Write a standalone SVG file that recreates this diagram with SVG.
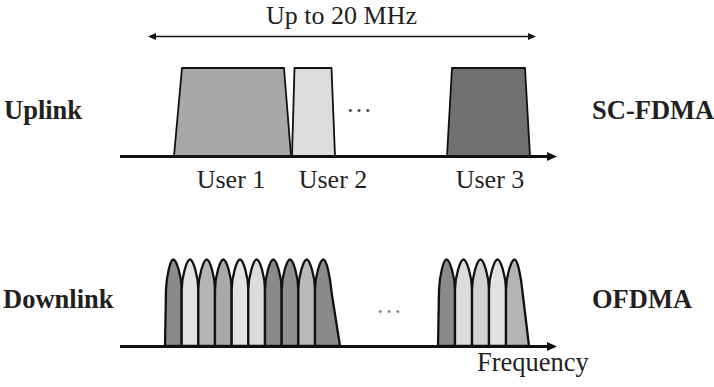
<svg xmlns="http://www.w3.org/2000/svg" width="714" height="387" viewBox="0 0 714 387">
<style>
  .t{font-family:"Liberation Serif","Times New Roman",serif;fill:#231f20}
  .b{font-weight:bold;font-size:26.5px}
  .r{font-size:26px}
  .sh{stroke:#111;stroke-width:1.8;stroke-linejoin:round}
  .lb{stroke:#111;stroke-width:2.3;stroke-linejoin:round}
  .ax{stroke:#111;stroke-width:2.8;fill:none}
  .c1{fill:#8a8a8a}.c2{fill:#e2e2e2}.c3{fill:#b4b4b4}.c4{fill:#a9a9a9}.c5{fill:#dcdcdc}.c6{fill:#bababa}.c7{fill:#d2d2d2}.c8{fill:#909090}
</style>
<defs>
  <marker id="big" markerUnits="userSpaceOnUse" markerWidth="11" markerHeight="9" refX="3" refY="4.5" orient="auto">
    <path d="M0,0 L10,4.5 L0,9 Z" fill="#111"/>
  </marker>
  <marker id="small" markerUnits="userSpaceOnUse" markerWidth="9" markerHeight="7" refX="1" refY="3.5" orient="auto-start-reverse">
    <path d="M0,0 L8,3.5 L0,7 Z" fill="#111"/>
  </marker>
</defs>

<g id="connectors">
  <line x1="155" y1="36.5" x2="529" y2="36.5" stroke="#111" stroke-width="1.5" marker-start="url(#small)" marker-end="url(#small)"/>
  <line class="ax" x1="120" y1="156.5" x2="550" y2="156.5" marker-end="url(#big)"/>
  <line class="ax" x1="120" y1="346.5" x2="550" y2="346.5" marker-end="url(#big)"/>
</g>

<text class="t r" x="341.5" y="24" text-anchor="middle">Up to 20 MHz</text>

<g id="uplink-label"><text class="t b" x="4" y="119">Uplink</text></g>
<g id="scfdma-label"><text class="t b" x="592" y="119">SC-FDMA</text></g>
<g id="downlink-label"><text class="t b" x="3" y="308">Downlink</text></g>
<g id="ofdma-label"><text class="t b" x="592" y="308">OFDMA</text></g>

<g id="user1">
  <polygon class="sh" points="174,156 182,68 284,68 291,156" fill="#a8a8a8"/>
  <text class="t r" x="231" y="188" text-anchor="middle">User 1</text>
</g>
<g id="user2">
  <polygon class="sh" points="292,156 294.5,68 331.5,68 335,156" fill="#dcdcdc"/>
  <text class="t r" x="333" y="188" text-anchor="middle">User 2</text>
</g>
<g id="user3">
  <polygon class="sh" points="447,156 452,68 525,68 530,156" fill="#707070"/>
  <text class="t r" x="490" y="188" text-anchor="middle">User 3</text>
</g>
<text class="t r" x="359" y="111.5" text-anchor="middle" style="fill:#444">…</text>

<g id="ofdma-group1">
  <path class="lb c1" d="M165,346 L166,290 C166.5,276 170.3,259.5 173.3,259.5 C176.3,259.5 181.7,276 181.7,290 L181.7,346 Z"/>
  <path class="lb c2" d="M181.7,346 L181.7,290 C181.7,276 187,259.5 190,259.5 C193,259.5 198.3,276 198.3,290 L198.3,346 Z"/>
  <path class="lb c3" d="M198.3,346 L198.3,290 C198.3,276 203.7,259.5 206.7,259.5 C209.7,259.5 215,276 215,290 L215,346 Z"/>
  <path class="lb c4" d="M215,346 L215,290 C215,276 220.3,259.5 223.3,259.5 C226.3,259.5 231.7,276 231.7,290 L231.7,346 Z"/>
  <path class="lb c2" d="M231.7,346 L231.7,290 C231.7,276 237,259.5 240,259.5 C243,259.5 248.3,276 248.3,290 L248.3,346 Z"/>
  <path class="lb c5" d="M248.3,346 L248.3,290 C248.3,276 253.7,259.5 256.7,259.5 C259.7,259.5 265,276 265,290 L265,346 Z"/>
  <path class="lb c1" d="M265,346 L265,290 C265,276 270.3,259.5 273.3,259.5 C276.3,259.5 281.7,276 281.7,290 L281.7,346 Z"/>
  <path class="lb c8" d="M281.7,346 L281.7,290 C281.7,276 287,259.5 290,259.5 C293,259.5 298.3,276 298.3,290 L298.3,346 Z"/>
  <path class="lb c6" d="M298.3,346 L298.3,290 C298.3,276 303.7,259.5 306.7,259.5 C309.7,259.5 315,276 315,290 L315,346 Z"/>
  <path class="lb c1" d="M315,346 L315,290 C315,276 320.3,259.5 323.3,259.5 C326.5,259.5 330,276 331.5,292 L340,346 Z"/>
</g>

<text class="t r" x="389" y="312.5" text-anchor="middle" style="fill:#8a8a8a">…</text>

<g id="ofdma-group2">
  <path class="lb c1" d="M438,346 L439,290 C439.5,276 443.5,259.5 446.5,259.5 C449.5,259.5 455,276 455,290 L455,346 Z"/>
  <path class="lb c5" d="M455,346 L455,290 C455,276 460.5,259.5 463.5,259.5 C466.5,259.5 472,276 472,290 L472,346 Z"/>
  <path class="lb c7" d="M472,346 L472,290 C472,276 477.5,259.5 480.5,259.5 C483.5,259.5 489,276 489,290 L489,346 Z"/>
  <path class="lb c2" d="M489,346 L489,290 C489,276 494.5,259.5 497.5,259.5 C500.5,259.5 506,276 506,290 L506,346 Z"/>
  <path class="lb c3" d="M506,346 L506,290 C506,276 511.5,259.5 514.5,259.5 C517.5,259.5 521,276 522.5,292 L529,346 Z"/>
</g>

<text class="t r" x="477" y="371" style="font-size:26.5px">Frequency</text>
</svg>
